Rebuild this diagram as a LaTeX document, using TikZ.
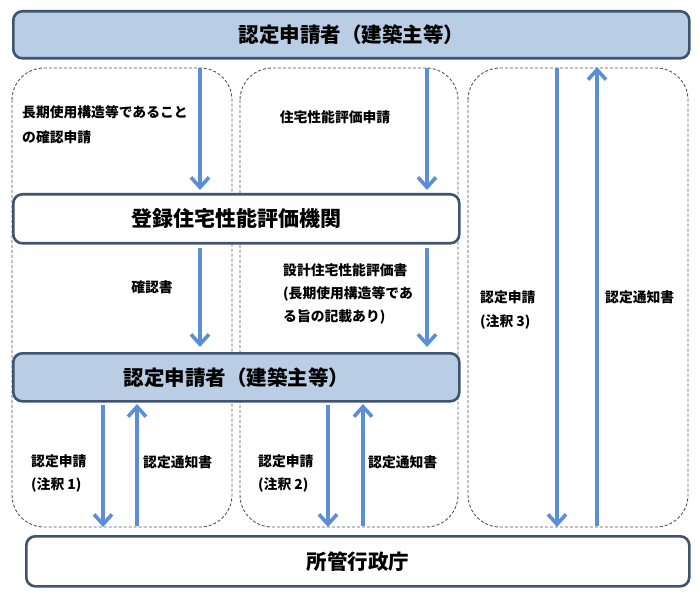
\documentclass[tikz,border=0pt]{standalone}
\usepackage{fontspec}
\setmainfont{Noto Sans CJK JP}
\usetikzlibrary{arrows.meta}
\definecolor{boxfill}{HTML}{B9CDE5}
\definecolor{boxline}{HTML}{3F5470}
\definecolor{arrowblue}{HTML}{5B8ED4}
\definecolor{dashgray}{HTML}{4E545C}
\tikzset{
  mainbox/.style={draw=boxline, line width=2.6pt, rounded corners=9pt, inner sep=0pt},
  groupbox/.style={draw=dashgray, dash pattern=on 3pt off 2pt, line width=0.9pt, rounded corners=32pt},
  flow/.style={draw=arrowblue, line width=3.6pt, -{Straight Barb[length=10pt,width=18pt,line width=3.6pt]}},
  lbl/.style={font=\fontsize{13.8}{16}\selectfont\bfseries, align=left, inner sep=0pt},
  titletext/.style={font=\fontsize{20.5}{23}\selectfont\bfseries}
}
\begin{document}
\begin{tikzpicture}[x=1pt,y=-1pt]
\useasboundingbox (0,0) rectangle (700,601);
% dashed group boxes
\draw[groupbox] (12,68) rectangle (232,527);
\draw[groupbox] (240,68) rectangle (458,527);
\draw[groupbox] (468,68) rectangle (688,527);
% main boxes
\node[mainbox, fill=boxfill, minimum width=676pt, minimum height=47pt, anchor=north west, titletext] (top) at (12,10) {認定申請者（建築主等）};
\node[mainbox, fill=white, minimum width=446pt, minimum height=49pt, anchor=north west, font=\fontsize{21}{24}\selectfont\bfseries] (eval) at (12,193) {登録住宅性能評価機関};
\node[mainbox, fill=boxfill, minimum width=446pt, minimum height=48pt, anchor=north west, titletext] (mid) at (12,352) {認定申請者（建築主等）};
\node[mainbox, fill=white, minimum width=663pt, minimum height=50pt, anchor=north west, titletext] (gov) at (25,535) {所管行政庁};
% coordinates
\coordinate (a1s) at (200,68);  \coordinate (a1e) at (200,190);
\coordinate (a2s) at (427,68);  \coordinate (a2e) at (427,190);
\coordinate (a3s) at (200,248); \coordinate (a3e) at (200,347);
\coordinate (a4s) at (427,248); \coordinate (a4e) at (427,347);
\coordinate (a5s) at (103,405); \coordinate (a5e) at (103,527);
\coordinate (a6s) at (137,526); \coordinate (a6e) at (137,404);
\coordinate (a7s) at (328,405); \coordinate (a7e) at (328,527);
\coordinate (a8s) at (363,526); \coordinate (a8e) at (363,404);
\coordinate (a9s) at (557,68);  \coordinate (a9e) at (557,527);
\coordinate (a10s) at (597,526); \coordinate (a10e) at (597,67);
\foreach \i in {1,...,10} \draw[flow] (a\i s) -- (a\i e);
% labels
\node[lbl, anchor=west] (l1) at (22,112) {長期使用構造等であること};
\node[lbl, anchor=west] (l1b) at (22,137) {の確認申請};
\node[lbl] (l2) at (335,117) {住宅性能評価申請};
\node[lbl] (l3) at (152,287) {確認書};
\node[lbl, anchor=west] (l4a) at (283,270) {設計住宅性能評価書};
\node[lbl, anchor=west] (l4b) at (283,294) {(長期使用構造等であ};
\node[lbl, anchor=west] (l4c) at (283,317) {る旨の記載あり)};
\node[lbl, anchor=west] (l5a) at (31,461) {認定申請};
\node[lbl, anchor=west] (l5b) at (31,485) {(注釈 1)};
\node[lbl, anchor=west] (l6) at (143,462) {認定通知書};
\node[lbl, anchor=west] (l7a) at (258,461) {認定申請};
\node[lbl, anchor=west] (l7b) at (258,485) {(注釈 2)};
\node[lbl, anchor=west] (l8) at (368,462) {認定通知書};
\node[lbl, anchor=west] (l9a) at (480,297) {認定申請};
\node[lbl, anchor=west] (l9b) at (480,322) {(注釈 3)};
\node[lbl, anchor=west] (l10) at (605,297) {認定通知書};
\end{tikzpicture}
\end{document}
